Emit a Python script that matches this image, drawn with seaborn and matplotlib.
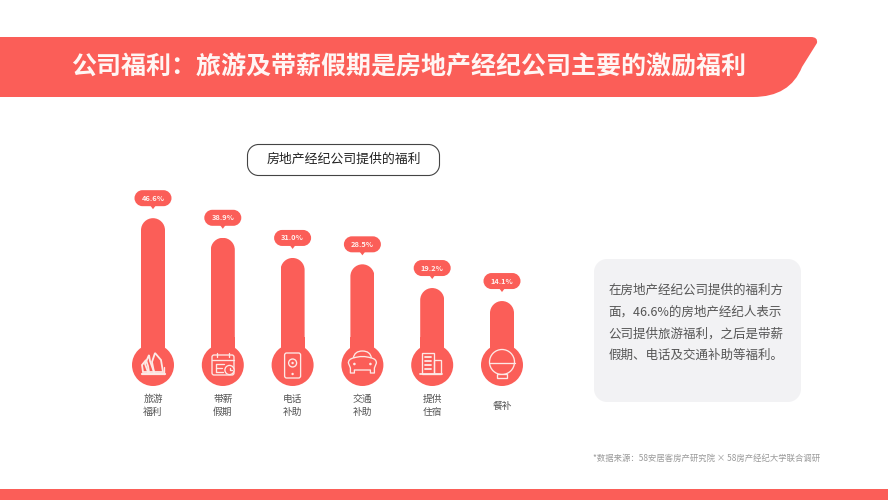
import numpy as np
import pandas as pd
import matplotlib
matplotlib.use('Agg')
import matplotlib.pyplot as plt
from matplotlib.patches import PathPatch, Circle, Polygon, Rectangle
from matplotlib.path import Path
import seaborn as sns

# ============================================================
# DATA
# ============================================================
title = '公司福利\uff1a旅游及带薪假期是房地产经纪公司主要的激励福利'
subtitle = '房地产经纪公司提供的福利'
categories = ['旅游\n福利', '带薪\n假期', '电话\n补助', '交通\n补助', '提供\n住宿', '餐补']
values = [46.6, 38.9, 31.0, 28.5, 19.2, 14.1]
note_lines = ['在房地产经纪公司提供的福利方',
              '面\uff0c46.6%的房地产经纪人表示',
              '公司提供旅游福利\uff0c之后是带薪',
              '假期、电话及交通补助等福利。']
source = '*数据来源\uff1a58安居客房产研究院 × 58房产经纪大学联合调研'

RED = '#FB5E58'
ICON = '#FDE9E6'
W, H = 888, 500
BASE_Y = 337       # pixel row of value 0
PX_PER_PCT = 2.55
X0 = 153
STEP = 69.8
CY = 365           # icon circle centre

sns.set_theme(style='white')
plt.rcParams['font.family'] = ['Noto Sans CJK SC', 'DejaVu Sans']

fig = plt.figure(figsize=(W / 100, H / 100), dpi=100, facecolor='white')

# ============================================================
# BARS (seaborn, in data units)
# ============================================================
top_val = 55
ax = fig.add_axes([(X0 - STEP / 2) / W, (H - BASE_Y) / H, 6 * STEP / W, top_val * PX_PER_PCT / H])
df = pd.DataFrame({'cat': categories, 'val': values})
sns.barplot(data=df, x='cat', y='val', color=RED, saturation=1, width=24 / STEP, linewidth=0, ax=ax)
ax.set_xlim(-0.5, 5.5)
ax.set_ylim(0, top_val)
ax.axis('off')

# overlay in pixel coordinates for the decoration
ov = fig.add_axes([0, 0, 1, 1], facecolor='none')
ov.set_xlim(0, W)
ov.set_ylim(H, 0)
ov.axis('off')


def y_px(v):
    return BASE_Y - PX_PER_PCT * v


def rr_path(x, y, w, h, r):
    # rounded rectangle with proper circular looking corners
    k = r * 0.45
    x1, y1 = x + w, y + h
    verts = [(x + r, y), (x1 - r, y),
             (x1 - k, y), (x1, y + k), (x1, y + r),
             (x1, y1 - r),
             (x1, y1 - k), (x1 - k, y1), (x1 - r, y1),
             (x + r, y1),
             (x + k, y1), (x, y1 - k), (x, y1 - r),
             (x, y + r),
             (x, y + k), (x + k, y), (x + r, y),
             (x + r, y)]
    codes = [Path.MOVETO, Path.LINETO,
             Path.CURVE4, Path.CURVE4, Path.CURVE4,
             Path.LINETO,
             Path.CURVE4, Path.CURVE4, Path.CURVE4,
             Path.LINETO,
             Path.CURVE4, Path.CURVE4, Path.CURVE4,
             Path.LINETO,
             Path.CURVE4, Path.CURVE4, Path.CURVE4,
             Path.CLOSEPOLY]
    return Path(verts, codes)


bars = list(ax.patches)
# stems that join the bars to the icon circles
stems = ax.bar(range(6), [-(CY - BASE_Y) / PX_PER_PCT] * 6, width=24 / STEP, color=RED,
               linewidth=0, clip_on=False)

for i, (bar, v) in enumerate(zip(bars, values)):
    cx = X0 + i * STEP
    # rounded tops: clip each seaborn bar
    clip = PathPatch(rr_path(cx - 12, y_px(v), 24, BASE_Y + 40 - y_px(v), 12), transform=ov.transData)
    bar.set_clip_path(clip)
    ov.add_patch(Circle((cx, CY), 21, fc=RED, ec='none'))
    # value bubble
    by = y_px(v) - 20
    ov.add_patch(PathPatch(rr_path(cx - 18.5, by - 8, 37, 16, 8), fc=RED, ec='none'))
    ov.add_patch(Polygon([(cx - 3, by + 7), (cx + 3, by + 7), (cx, by + 11)], fc=RED, ec='none'))
    ov.text(cx, by, f'{v:.1f}%', color='#FFF1EE', fontsize=5.4, fontweight='bold', ha='center', va='center')
    ov.text(cx, 405.5, categories[i], color='#555555', fontsize=7, ha='center', va='center', linespacing=1.3)

# ============================================================
# ICONS
# ============================================================
LW = 0.95
ic = dict(fc='none', ec=ICON, lw=LW)


def line(xs, ys, lw=LW):
    ov.plot(xs, ys, color=ICON, lw=lw, solid_capstyle='round')


def curve(pts):
    codes = [Path.MOVETO] + [Path.CURVE3] * (len(pts) - 1)
    ov.add_patch(PathPatch(Path(pts, codes), **ic))


# sails
c = X0
for s in ([(c - 5, CY + 7), (c - 8, CY - 1), (c - 4, CY - 10), (c - 3, CY - 4), (c + 1, CY + 7)],
          [(c - 10, CY + 7), (c - 11, CY), (c - 7, CY - 5), (c - 5, CY + 1), (c - 4, CY + 7)],
          [(c + 1, CY + 7), (c - 1, CY - 3), (c + 2, CY - 12), (c + 8, CY - 5), (c + 10, CY + 7)]):
    ov.add_patch(Polygon(s, closed=True, fc='none', ec=ICON, lw=1.3))
line([c - 11, c + 12], [CY + 9, CY + 9], lw=1.6)
line([c + 11, c + 11], [CY + 2, CY + 9])

# calendar
c = X0 + 70
ov.add_patch(PathPatch(rr_path(c - 11, CY - 10, 22, 20, 2), **ic))
line([c - 11, c + 11], [CY - 5, CY - 5])
line([c - 6, c - 6], [CY - 12, CY - 8])
line([c + 6, c + 6], [CY - 12, CY - 8])
line([c - 7, c - 7], [CY - 1, CY + 7])
for dy, x1 in zip((-1, 3, 7), (c + 1, c - 1, c + 0)):
    line([c - 7, x1], [CY + dy, CY + dy])
ov.add_patch(Circle((c + 6.5, CY + 5), 4.6, fc=RED, ec=ICON, lw=LW))
line([c + 6.5, c + 6.5, c + 8.5], [CY + 2.5, CY + 5, CY + 5])

# phone
c = X0 + 2 * STEP
ov.add_patch(PathPatch(rr_path(c - 8, CY - 12, 16, 25, 2), **ic))
ov.add_patch(Circle((c, CY - 2), 4, **ic))
ov.add_patch(Circle((c, CY - 2), 1.2, fc=ICON, ec='none'))
ov.add_patch(Circle((c, CY + 9), 1.2, fc=ICON, ec='none'))

# car
c = X0 + 3 * STEP
curve([(c - 9, CY - 7), (c - 8, CY - 14), (c, CY - 14), (c + 8, CY - 14), (c + 9, CY - 7)])
curve([(c - 9, CY - 7), (c, CY - 10), (c + 9, CY - 7)])
curve([(c - 9, CY - 7), (c - 14, CY - 6), (c - 14, CY - 2)])
curve([(c + 9, CY - 7), (c + 14, CY - 6), (c + 14, CY - 2)])
line([c - 14, c - 12, c - 12, c - 8, c - 8, c + 8, c + 8, c + 12, c + 12, c + 14],
     [CY - 2, CY + 3, CY + 8, CY + 8, CY + 5, CY + 5, CY + 8, CY + 8, CY + 3, CY - 2])
ov.add_patch(Circle((c - 8, CY - 1), 1.3, fc=ICON, ec='none'))
ov.add_patch(Circle((c + 8, CY - 1), 1.3, fc=ICON, ec='none'))

# building
c = X0 + 4 * STEP
ov.add_patch(Rectangle((c - 10, CY - 12), 12, 21, **ic))
ov.add_patch(Rectangle((c + 2, CY - 5), 7, 14, **ic))
for dy in (-8, -4, 0, 4):
    line([c - 7, c - 1], [CY + dy, CY + dy], lw=1.3)
line([c - 12, c + 10], [CY + 9, CY + 9], lw=1.3)

# bowl
c = X0 + 5 * STEP
ov.add_patch(Circle((c, CY - 3), 12.5, **ic))
line([c - 12.5, c + 12.5], [CY - 2, CY - 2])
ov.add_patch(Rectangle((c - 5, CY + 9), 10, 4, fc=RED, ec=ICON, lw=LW))

# ============================================================
# BANNER, BOXES AND TEXT
# ============================================================
banner = Path([(0, 37), (811, 37), (818, 37), (817, 43), (802, 67), (790, 97), (753, 97), (0, 97), (0, 37)],
              [Path.MOVETO, Path.LINETO, Path.CURVE3, Path.CURVE3,
               Path.LINETO, Path.CURVE3, Path.CURVE3, Path.LINETO, Path.CLOSEPOLY])
ov.add_patch(PathPatch(banner, fc=RED, ec='none'))
ov.text(408.5, 67, title, color='#FFF6F4', fontsize=18, fontweight='bold', ha='center', va='center')

ov.add_patch(Rectangle((0, 489), W, 11, fc=RED, ec='none'))

ov.add_patch(PathPatch(rr_path(247.5, 144.5, 192, 31, 11), fc='white', ec='#444444', lw=0.8))
ov.text(344, 159.5, subtitle, color='#222222', fontsize=9.3, fontweight='medium', ha='center', va='center')

ov.add_patch(PathPatch(rr_path(594, 259, 207, 143, 13), fc='#F2F2F4', ec='none'))
for line_text, ty in zip(note_lines, (290, 312, 334, 355)):
    ov.text(608.5, ty, line_text, color='#555555', fontsize=9, ha='left', va='center')

ov.text(593, 458, source, color='#9A9A9A', fontsize=6.0, ha='left', va='center')

fig.savefig('out.png', dpi=100)
